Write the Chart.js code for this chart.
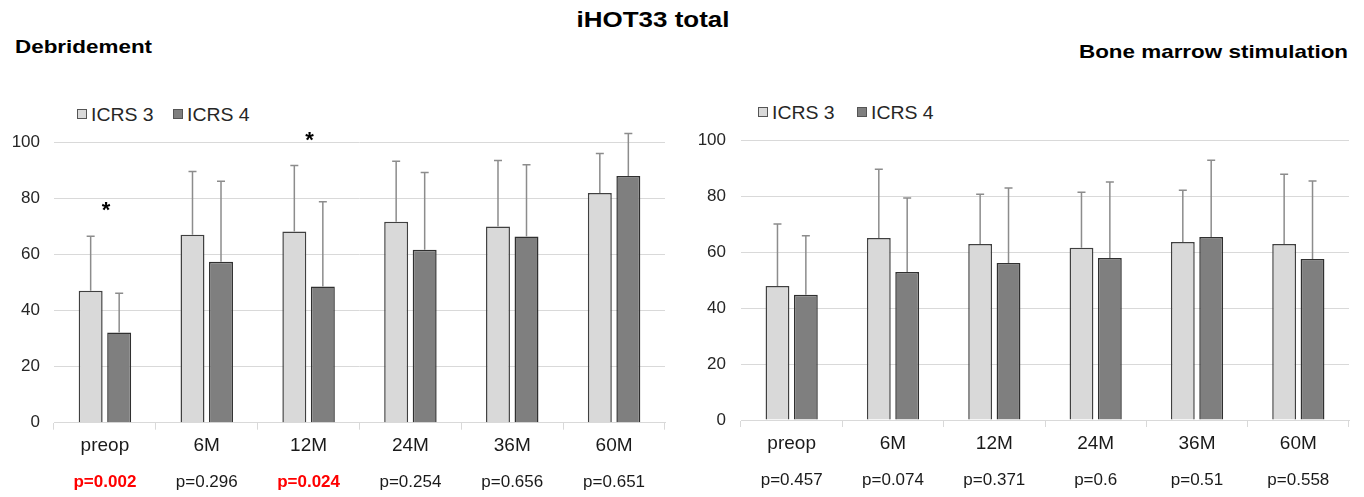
<!DOCTYPE html>
<html><head><meta charset="utf-8">
<script src="https://cdn.jsdelivr.net/npm/chart.js@4.4.1/dist/chart.umd.min.js"></script>
<style>
html,body{margin:0;padding:0;background:#fff;width:1364px;height:497px;overflow:hidden;font-family:"Liberation Sans",Arial,sans-serif;color:#000;}
.abs{position:absolute;white-space:nowrap;line-height:1;}
#title{left:653px;top:9px;font-weight:bold;font-size:22px;transform:translateX(-50%) scaleX(1.18);}
#t1{left:15px;top:37px;font-weight:bold;font-size:19px;transform-origin:left center;transform:scaleX(1.18);}
#t2{right:16px;top:42px;font-weight:bold;font-size:19px;transform-origin:right center;transform:scaleX(1.18);}
.leg{position:absolute;font-size:18px;line-height:1;color:#262626;white-space:nowrap;}
.leg .box{position:absolute;left:0;top:3px;width:10px;height:10px;border:1px solid #555;box-sizing:border-box;}
.leg .txt{position:absolute;left:14px;top:0;transform-origin:left center;transform:scaleX(1.08);}
canvas{position:absolute;}
</style></head><body>
<div id="title" class="abs">iHOT33 total</div>
<div id="t1" class="abs">Debridement</div>
<div id="t2" class="abs">Bone marrow stimulation</div>
<div id="legends"></div>
<canvas id="c1" width="680" height="397" style="left:0;top:100px"></canvas>
<canvas id="c2" width="684" height="397" style="left:680px;top:100px"></canvas>
<script>
const categories = ['preop', '6M', '12M', '24M', '36M', '60M'];
const seriesNames = ['ICRS 3', 'ICRS 4'];
const seriesColors = ['#d9d9d9', '#7f7f7f'];
const yTickValues = [0, 20, 40, 60, 80, 100];

// Debridement
const debrIcrs3Mean = [47.0, 67.0, 68.1, 71.6, 69.9, 81.8];
const debrIcrs3Sd   = [19.4, 22.5, 23.5, 21.5, 23.5, 14.1];
const debrIcrs4Mean = [32.1, 57.3, 48.5, 61.6, 66.3, 87.9];
const debrIcrs4Sd   = [14.0, 28.7, 30.2, 27.5, 25.6, 15.1];
const debrPValues   = ['0.002', '0.296', '0.024', '0.254', '0.656', '0.651'];

// Bone marrow stimulation
const bmsIcrs3Mean = [48.0, 65.2, 63.0, 61.7, 63.7, 63.0];
const bmsIcrs3Sd   = [22.2, 24.6, 17.8, 19.8, 18.6, 25.0];
const bmsIcrs4Mean = [44.8, 53.0, 56.2, 58.0, 65.5, 57.6];
const bmsIcrs4Sd   = [21.2, 26.5, 26.9, 27.2, 27.5, 28.0];
const bmsPValues   = ['0.457', '0.074', '0.371', '0.6', '0.51', '0.558'];

const FONT = '"Liberation Sans", Arial, sans-serif';

const annotPlugin = {
  id: 'annot',
  afterDatasetsDraw(chart) {
    const ctx = chart.ctx, ys = chart.scales.y;
    ctx.save();
    ctx.strokeStyle = '#8c8c8c';
    ctx.lineWidth = 1.5;
    chart.data.datasets.forEach((ds, di) => {
      const meta = chart.getDatasetMeta(di);
      meta.data.forEach((bar, i) => {
        const top = ys.getPixelForValue(ds.data[i] + ds.sd[i]);
        ctx.beginPath();
        ctx.moveTo(bar.x, bar.y);
        ctx.lineTo(bar.x, top);
        ctx.moveTo(bar.x - 4, top);
        ctx.lineTo(bar.x + 4, top);
        ctx.stroke();
      });
    });
    ctx.restore();
  },
  afterDraw(chart, args, opts) {
    const ctx = chart.ctx, xs = chart.scales.x, ys = chart.scales.y;
    const pv = opts.pValues || [];
    ctx.save();
    ctx.textAlign = 'center';
    pv.forEach((p, i) => {
      const x = xs.getPixelForValue(i);
      const sig = parseFloat(p) < 0.05;
      ctx.textBaseline = 'middle';
      ctx.font = (sig ? 'bold ' : '') + '17px ' + FONT;
      ctx.fillStyle = sig ? '#ff0000' : '#1a1a1a';
      ctx.fillText('p=' + p, x, chart.chartArea.bottom + 60);
      if (sig) {
        let top = Infinity;
        chart.data.datasets.forEach(ds => {
          top = Math.min(top, ys.getPixelForValue(ds.data[i] + ds.sd[i]));
        });
        ctx.font = 'bold 22px ' + FONT;
        ctx.fillStyle = '#000';
        ctx.textBaseline = 'alphabetic';
        ctx.fillText('*', x + 1, top - 30 + 11);
      }
    });
    ctx.restore();
  }
};

function makeChart(id, m3, s3, m4, s4, pvals, g) {
  return new Chart(document.getElementById(id), {
    type: 'bar',
    data: {
      labels: categories,
      datasets: [
        { label: seriesNames[0], data: m3, sd: s3, backgroundColor: seriesColors[0], borderColor: '#404040', borderWidth: 1.5, borderSkipped: 'start' },
        { label: seriesNames[1], data: m4, sd: s4, backgroundColor: seriesColors[1], borderColor: '#303030', borderWidth: 1.5, borderSkipped: 'start' }
      ]
    },
    options: {
      responsive: false,
      animation: false,
      devicePixelRatio: 1,
      layout: { padding: { top: g.top, right: g.right, left: 0, bottom: 0 } },
      datasets: { bar: { categoryPercentage: 0.56, barPercentage: 0.84 } },
      plugins: { legend: { display: false }, tooltip: { enabled: false }, annot: { pValues: pvals } },
      scales: {
        x: {
          grid: { display: true, drawOnChartArea: false, drawTicks: true, tickLength: 7, color: '#d9d9d9', offset: true },
          border: { display: true, color: '#d9d9d9', width: 1 },
          ticks: { font: { family: FONT, size: 19 }, color: '#1a1a1a', padding: 5 },
          afterFit(s) { s.height = g.xh; }
        },
        y: {
          min: 0, max: 100,
          afterBuildTicks(s) { s.ticks = yTickValues.map(v => ({ value: v })); },
          ticks: { font: { family: FONT, size: 17 }, color: '#262626', padding: g.pad },
          grid: { color: '#d9d9d9', drawTicks: false, lineWidth: 1 },
          border: { display: false },
          afterFit(s) { s.width = g.yw; }
        }
      }
    },
    plugins: [annotPlugin]
  });
}

function legend(left, top, idx) {
  const el = document.createElement('div');
  el.className = 'leg';
  el.style.left = left + 'px';
  el.style.top = top + 'px';
  el.innerHTML = '<span class="box" style="background:' + seriesColors[idx] + '"></span><span class="txt">' + seriesNames[idx] + '</span>';
  document.getElementById('legends').appendChild(el);
}
legend(77, 106, 0); legend(173, 106, 1);
legend(758, 104, 0); legend(857, 104, 1);

makeChart('c1', debrIcrs3Mean, debrIcrs3Sd, debrIcrs4Mean, debrIcrs4Sd, debrPValues, { top: 42, right: 15, yw: 54, xh: 74.3, pad: 14 });
makeChart('c2', bmsIcrs3Mean, bmsIcrs3Sd, bmsIcrs4Mean, bmsIcrs4Sd, bmsPValues, { top: 40.7, right: 15, yw: 61, xh: 77, pad: 15 });
</script>
</body></html>
